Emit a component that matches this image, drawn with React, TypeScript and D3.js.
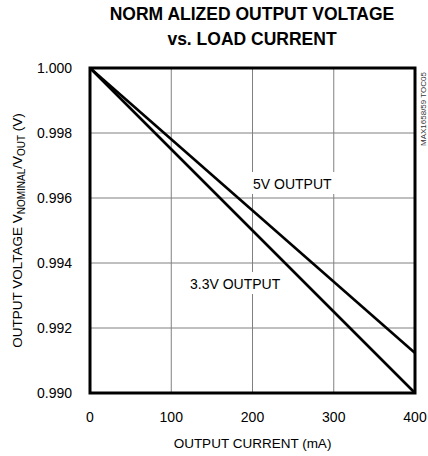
import React from "react";
import * as d3 from "d3";

const xTicks = [0, 100, 200, 300, 400];
const yTicks = [0.99, 0.992, 0.994, 0.996, 0.998, 1.0];
const loadCurrent = [0, 400];
const out5V = [1.0, 0.99123];
const out33V = [1.0, 0.99];

const W = 428;
const H = 456;
const M = { left: 90, right: 415, top: 68, bottom: 393 };
const FONT = "'Liberation Sans Narrow', 'Liberation Sans', Arial, sans-serif";
const FONT2 = "'Liberation Sans', Arial, sans-serif";

export default function App() {
  const x = d3.scaleLinear().domain([0, 400]).range([M.left, M.right]);
  const y = d3.scaleLinear().domain([0.99, 1.0]).range([M.bottom, M.top]);
  const line = d3
    .line<number>()
    .x((_, i) => x(loadCurrent[i]))
    .y((d) => y(d));

  return (
    <svg
      width={W}
      height={H}
      style={{ position: "absolute", left: 0, top: 0, background: "#fff" }}
    >
      <rect x={0} y={0} width={W} height={H} fill="#fff" />
      {/* title */}
      <text x={252} y={20} textAnchor="middle" fontFamily={FONT} fontWeight="bold" fontSize={17.5}>
        NORM ALIZED OUTPUT VOLTAGE
      </text>
      <text x={252} y={45} textAnchor="middle" fontFamily={FONT} fontWeight="bold" fontSize={17.5}>
        vs.  LOAD CURRENT
      </text>
      {/* grid */}
      {xTicks.slice(1, -1).map((t) => (
        <line key={"gx" + t} x1={x(t)} x2={x(t)} y1={M.top} y2={M.bottom} stroke="#808080" strokeWidth={1} />
      ))}
      {yTicks.slice(1, -1).map((t) => (
        <line key={"gy" + t} x1={M.left} x2={M.right} y1={y(t)} y2={y(t)} stroke="#808080" strokeWidth={1} />
      ))}
      {/* label backgrounds */}
      <rect x={250} y={172} width={86} height={22} fill="#fff" />
      <rect x={187} y={272} width={93} height={22} fill="#fff" />
      {/* data */}
      <path d={line(out5V) || ""} fill="none" stroke="#000" strokeWidth={2.6} />
      <path d={line(out33V) || ""} fill="none" stroke="#000" strokeWidth={2.6} />
      {/* frame */}
      <rect
        x={M.left}
        y={M.top}
        width={M.right - M.left}
        height={M.bottom - M.top}
        fill="none"
        stroke="#000"
        strokeWidth={3}
      />
      {/* labels */}
      <text x={253} y={189} fontFamily={FONT2} fontSize={14}>
        5V OUTPUT
      </text>
      <text x={190} y={289} fontFamily={FONT2} fontSize={14}>
        3.3V OUTPUT
      </text>
      {/* y ticks */}
      {yTicks.map((t) => (
        <text key={"ty" + t} x={72} y={y(t) + 5} textAnchor="end" fontFamily={FONT2} fontSize={14}>
          {d3.format(".3f")(t)}
        </text>
      ))}
      {/* x ticks */}
      {xTicks.map((t) => (
        <text key={"tx" + t} x={x(t)} y={422} textAnchor="middle" fontFamily={FONT2} fontSize={14}>
          {t}
        </text>
      ))}
      <text x={(M.left + M.right) / 2} y={448} textAnchor="middle" fontFamily={FONT2} fontSize={13.5}>
        OUTPUT CURRENT (mA)
      </text>
      <text
        transform={`translate(22, ${(M.top + M.bottom) / 2}) rotate(-90)`}
        textAnchor="middle"
        fontFamily={FONT2}
        fontSize={13.5}
      >
        OUTPUT VOLTAGE V
        <tspan fontSize={10} dy={3}>NOMINAL</tspan>
        <tspan dy={-3}>/V</tspan>
        <tspan fontSize={10} dy={3}>OUT</tspan>
        <tspan dy={-3}> (V)</tspan>
      </text>
      <text
        transform={`translate(426, 109) rotate(-90)`}
        textAnchor="middle"
        fontFamily={FONT}
        fontSize={8}
        fill="#333"
      >
        MAX1658/59 TOC05
      </text>
    </svg>
  );
}
